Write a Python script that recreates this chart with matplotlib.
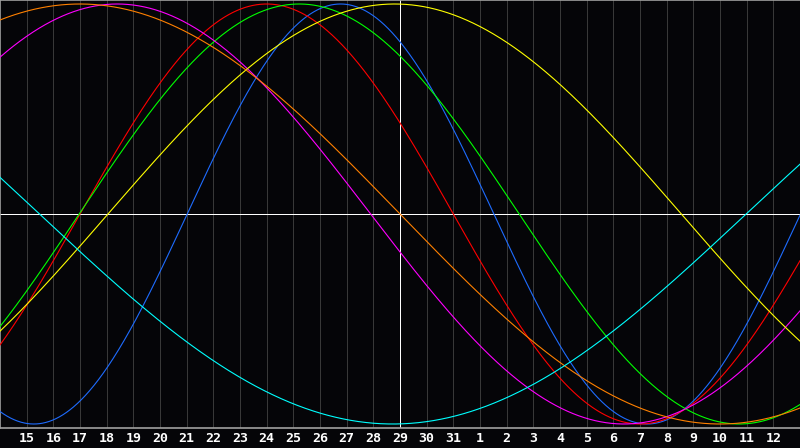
import numpy as np
import matplotlib.pyplot as plt

# day axis: 14 .. 44 (29 = today), labels wrap into the next month
day_ticks = list(range(15, 44))
day_labels = [str(d) if d <= 31 else str(d - 31) for d in day_ticks]
today = 29

# cycles: period in days and the day of its peak
names = ['physical', 'emotional', 'intellectual', 'intuitive', 'aesthetic', 'awareness', 'spiritual']
periods = [23, 28, 33, 38, 43, 48, 53]
peak_days = [26.77, 24.0, 25.22, 18.4, 28.8, 17.0, 2.23]
colors = ['#1e6cff', '#ff0000', '#00ff00', '#ff00ff', '#ffff00', '#ff8000', '#00ffff']

bg = '#050508'

fig = plt.figure(figsize=(8, 4.48), dpi=100, facecolor=bg)
ax = fig.add_axes([0, 20 / 448, 1, 428 / 448])
ax.set_facecolor(bg)

t = np.linspace(14, 44, 1600)

# day grid
for d in day_ticks:
    ax.axvline(d, color='#383838', lw=0.72, zorder=1, antialiased=False)

ax.axhline(0, color='white', lw=0.72, zorder=2, antialiased=False)
ax.axvline(today, color='white', lw=0.72, zorder=2, antialiased=False)

for p, pk, c in zip(periods, peak_days, colors):
    ax.plot(t, np.cos(2 * np.pi * (t - pk) / p), color=c, lw=0.8, zorder=3)

ax.set_xlim(14, 44)
ax.set_ylim(-214 / 210, 214 / 210)

ax.set_xticks(day_ticks)
ax.set_xticklabels(day_labels, color='white', fontsize=9.5, fontweight='bold',
                   family='DejaVu Sans Mono')
ax.tick_params(axis='x', length=0, pad=3)
ax.set_yticks([])

for side in ['left', 'top', 'bottom']:
    ax.spines[side].set_color('#a0a0a0')
    ax.spines[side].set_linewidth(1.2)
ax.spines['right'].set_visible(False)

fig.savefig('out.png', dpi=100, facecolor=bg)
